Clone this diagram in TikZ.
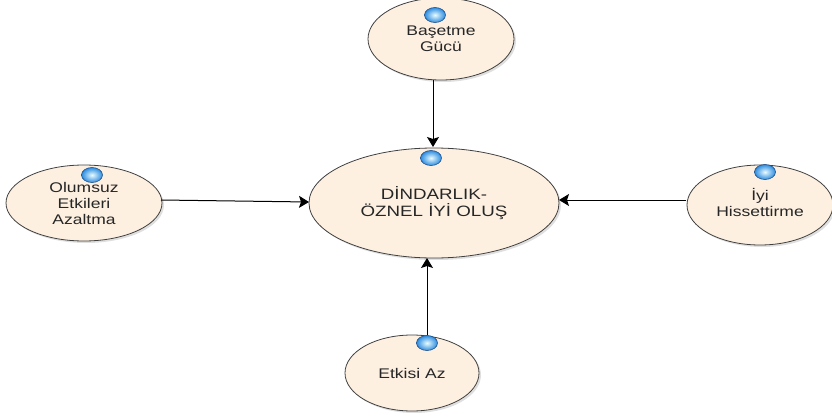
\documentclass[tikz,border=0pt]{standalone}
\usepackage{fontspec}
\setmainfont{Liberation Sans}[FakeStretch=1.25]
\usetikzlibrary{shapes.geometric,arrows.meta,shadows}
\definecolor{bubble}{HTML}{FDF0E1}
\definecolor{ballin}{HTML}{EAFCFF}
\definecolor{ballout}{HTML}{2C8CE0}
\definecolor{ballrim}{HTML}{1F4F8A}
\definecolor{ink}{HTML}{262626}
\tikzset{
  concept/.style={ellipse, draw=black!75, line width=0.8pt, fill=bubble,
    inner sep=0pt, align=center, text=ink, font=\fontsize{14}{16}\selectfont,
    drop shadow={shadow xshift=2pt, shadow yshift=-2pt, opacity=0.25}},
  ball/.style={ellipse, minimum width=21pt, minimum height=15pt, inner sep=0pt,
    draw=ballrim, line width=0.6pt, inner color=ballin, outer color=ballout},
  link/.style={-{Stealth[length=10pt,width=12pt,inset=2pt]}, line width=1pt, black}
}
\begin{document}
\begin{tikzpicture}[x=1pt,y=1pt]
\useasboundingbox (0,0) rectangle (832,416);
% concept ellipses
\node[concept, minimum width=250pt, minimum height=110pt,
  font=\fontsize{15}{17}\selectfont] (main) at (434,213)
  {DİNDARLIK-\\ÖZNEL İYİ OLUŞ};
\node[concept, minimum width=146pt, minimum height=82pt] (top) at (441,377) {Başetme\\Gücü};
\node[concept, minimum width=156pt, minimum height=76pt] (left) at (84,213) {Olumsuz\\Etkileri\\Azaltma};
\node[concept, minimum width=146pt, minimum height=80pt] (right) at (760,211) {\raisebox{4pt}{\begin{tabular}{@{}c@{}}İyi\\Hissettirme\end{tabular}}};
\node[concept, minimum width=134pt, minimum height=76pt] (bottom) at (412,43) {Etkisi Az};
% blue markers
\node[ball] (bm) at (431,258) {};
\node[ball] (bt) at (435,401) {};
\node[ball] (bl) at (92,241) {};
\node[ball] (br) at (765,244) {};
\node[ball] (bb) at (427,73) {};
% connectors
\coordinate (tS) at (433,336);
\coordinate (mN) at (433,269);
\coordinate (lE) at (161,216);
\coordinate (mW) at (309,214);
\coordinate (rW) at (686,216);
\coordinate (mE) at (559,216);
\coordinate (bN) at (427,81);
\coordinate (mS) at (427,158);
\draw[link] (tS) -- (mN);
\draw[link] (lE) -- (mW);
\draw[link] (rW) -- (mE);
\draw[link] (bN) -- (mS);
\end{tikzpicture}
\end{document}
